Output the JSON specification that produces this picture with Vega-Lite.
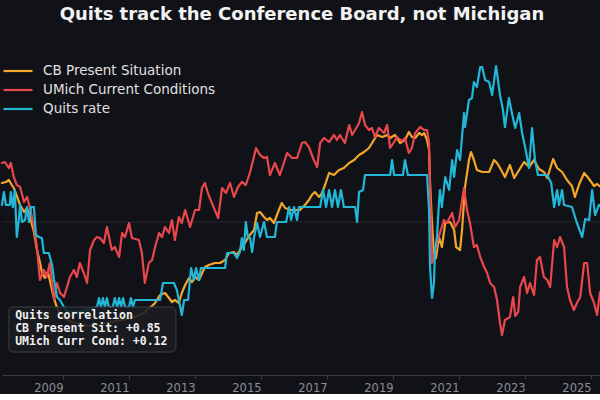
{
  "$schema": "https://vega.github.io/schema/vega-lite/v6.json",
  "width": 600,
  "height": 345,
  "padding": {"top": 6, "left": 0, "right": 0, "bottom": 0},
  "background": "#111217",
  "title": {"text": "Quits track the Conference Board, not Michigan", "anchor": "middle", "fontSize": 18, "font": "DejaVu Sans", "fontWeight": "bold", "color": "#f2f2f2", "offset": 6},
  "config": {"view": {"stroke": null}},
  "datasets": {
    "series": [
      {"s":"CB Present Situation","t":2007.15,"v":0.78},{"s":"CB Present Situation","t":2007.27,"v":0.80},{"s":"CB Present Situation","t":2007.36,"v":0.84},{"s":"CB Present Situation","t":2007.45,"v":0.74},{"s":"CB Present Situation","t":2007.51,"v":0.68},{"s":"CB Present Situation","t":2007.60,"v":0.52},{"s":"CB Present Situation","t":2007.70,"v":0.34},{"s":"CB Present Situation","t":2007.82,"v":0.20},{"s":"CB Present Situation","t":2007.91,"v":0.28},{"s":"CB Present Situation","t":2008.00,"v":0.10},{"s":"CB Present Situation","t":2008.12,"v":-0.20},{"s":"CB Present Situation","t":2008.21,"v":-0.56},{"s":"CB Present Situation","t":2008.30,"v":-0.80},{"s":"CB Present Situation","t":2008.36,"v":-1.00},{"s":"CB Present Situation","t":2008.45,"v":-1.12},{"s":"CB Present Situation","t":2008.54,"v":-1.00},{"s":"CB Present Situation","t":2008.60,"v":-1.16},{"s":"CB Present Situation","t":2008.70,"v":-1.46},{"s":"CB Present Situation","t":2008.79,"v":-1.66},{"s":"CB Present Situation","t":2008.88,"v":-1.80},{"s":"CB Present Situation","t":2009.03,"v":-1.92},{"s":"CB Present Situation","t":2009.27,"v":-2.00},{"s":"CB Present Situation","t":2009.57,"v":-2.06},{"s":"CB Present Situation","t":2009.88,"v":-2.08},{"s":"CB Present Situation","t":2010.18,"v":-2.04},{"s":"CB Present Situation","t":2010.48,"v":-2.00},{"s":"CB Present Situation","t":2010.79,"v":-1.96},{"s":"CB Present Situation","t":2011.09,"v":-1.92},{"s":"CB Present Situation","t":2011.39,"v":-1.84},{"s":"CB Present Situation","t":2011.63,"v":-1.72},{"s":"CB Present Situation","t":2011.79,"v":-1.62},{"s":"CB Present Situation","t":2011.94,"v":-1.46},{"s":"CB Present Situation","t":2012.09,"v":-1.42},{"s":"CB Present Situation","t":2012.21,"v":-1.52},{"s":"CB Present Situation","t":2012.30,"v":-1.60},{"s":"CB Present Situation","t":2012.39,"v":-1.56},{"s":"CB Present Situation","t":2012.51,"v":-1.62},{"s":"CB Present Situation","t":2012.60,"v":-1.42},{"s":"CB Present Situation","t":2012.70,"v":-1.26},{"s":"CB Present Situation","t":2012.82,"v":-1.12},{"s":"CB Present Situation","t":2012.91,"v":-1.20},{"s":"CB Present Situation","t":2013.00,"v":-1.10},{"s":"CB Present Situation","t":2013.12,"v":-1.16},{"s":"CB Present Situation","t":2013.30,"v":-0.90},{"s":"CB Present Situation","t":2013.42,"v":-0.86},{"s":"CB Present Situation","t":2013.60,"v":-0.82},{"s":"CB Present Situation","t":2013.76,"v":-0.82},{"s":"CB Present Situation","t":2013.91,"v":-0.76},{"s":"CB Present Situation","t":2014.03,"v":-0.62},{"s":"CB Present Situation","t":2014.18,"v":-0.60},{"s":"CB Present Situation","t":2014.27,"v":-0.66},{"s":"CB Present Situation","t":2014.36,"v":-0.56},{"s":"CB Present Situation","t":2014.51,"v":-0.42},{"s":"CB Present Situation","t":2014.66,"v":-0.26},{"s":"CB Present Situation","t":2014.79,"v":-0.16},{"s":"CB Present Situation","t":2014.88,"v":0.18},{"s":"CB Present Situation","t":2014.97,"v":0.20},{"s":"CB Present Situation","t":2015.09,"v":0.10},{"s":"CB Present Situation","t":2015.18,"v":0.04},{"s":"CB Present Situation","t":2015.27,"v":0.08},{"s":"CB Present Situation","t":2015.39,"v":-0.02},{"s":"CB Present Situation","t":2015.54,"v":0.24},{"s":"CB Present Situation","t":2015.63,"v":0.38},{"s":"CB Present Situation","t":2015.73,"v":0.28},{"s":"CB Present Situation","t":2015.88,"v":0.24},{"s":"CB Present Situation","t":2016.03,"v":0.24},{"s":"CB Present Situation","t":2016.18,"v":0.24},{"s":"CB Present Situation","t":2016.33,"v":0.34},{"s":"CB Present Situation","t":2016.45,"v":0.44},{"s":"CB Present Situation","t":2016.54,"v":0.54},{"s":"CB Present Situation","t":2016.63,"v":0.60},{"s":"CB Present Situation","t":2016.76,"v":0.50},{"s":"CB Present Situation","t":2016.85,"v":0.58},{"s":"CB Present Situation","t":2016.94,"v":0.74},{"s":"CB Present Situation","t":2017.06,"v":0.98},{"s":"CB Present Situation","t":2017.21,"v":0.94},{"s":"CB Present Situation","t":2017.36,"v":1.04},{"s":"CB Present Situation","t":2017.51,"v":1.08},{"s":"CB Present Situation","t":2017.67,"v":1.18},{"s":"CB Present Situation","t":2017.82,"v":1.24},{"s":"CB Present Situation","t":2017.97,"v":1.34},{"s":"CB Present Situation","t":2018.12,"v":1.40},{"s":"CB Present Situation","t":2018.27,"v":1.48},{"s":"CB Present Situation","t":2018.42,"v":1.64},{"s":"CB Present Situation","t":2018.51,"v":1.74},{"s":"CB Present Situation","t":2018.67,"v":1.70},{"s":"CB Present Situation","t":2018.82,"v":1.74},{"s":"CB Present Situation","t":2018.91,"v":1.68},{"s":"CB Present Situation","t":2019.06,"v":1.74},{"s":"CB Present Situation","t":2019.21,"v":1.58},{"s":"CB Present Situation","t":2019.36,"v":1.64},{"s":"CB Present Situation","t":2019.48,"v":1.80},{"s":"CB Present Situation","t":2019.57,"v":1.70},{"s":"CB Present Situation","t":2019.67,"v":1.68},{"s":"CB Present Situation","t":2019.79,"v":1.78},{"s":"CB Present Situation","t":2019.88,"v":1.74},{"s":"CB Present Situation","t":2019.94,"v":1.78},{"s":"CB Present Situation","t":2020.03,"v":1.64},{"s":"CB Present Situation","t":2020.09,"v":1.44},{"s":"CB Present Situation","t":2020.12,"v":0.78},{"s":"CB Present Situation","t":2020.18,"v":-0.02},{"s":"CB Present Situation","t":2020.24,"v":-0.66},{"s":"CB Present Situation","t":2020.30,"v":-0.72},{"s":"CB Present Situation","t":2020.39,"v":-0.30},{"s":"CB Present Situation","t":2020.48,"v":-0.50},{"s":"CB Present Situation","t":2020.58,"v":-0.02},{"s":"CB Present Situation","t":2020.73,"v":0.00},{"s":"CB Present Situation","t":2020.85,"v":-0.16},{"s":"CB Present Situation","t":2020.91,"v":-0.50},{"s":"CB Present Situation","t":2021.03,"v":-0.56},{"s":"CB Present Situation","t":2021.09,"v":-0.16},{"s":"CB Present Situation","t":2021.18,"v":0.70},{"s":"CB Present Situation","t":2021.30,"v":1.24},{"s":"CB Present Situation","t":2021.36,"v":1.40},{"s":"CB Present Situation","t":2021.45,"v":1.24},{"s":"CB Present Situation","t":2021.54,"v":1.04},{"s":"CB Present Situation","t":2021.70,"v":1.00},{"s":"CB Present Situation","t":2021.91,"v":1.00},{"s":"CB Present Situation","t":2022.06,"v":1.24},{"s":"CB Present Situation","t":2022.15,"v":1.18},{"s":"CB Present Situation","t":2022.24,"v":1.08},{"s":"CB Present Situation","t":2022.39,"v":0.90},{"s":"CB Present Situation","t":2022.54,"v":1.14},{"s":"CB Present Situation","t":2022.67,"v":0.88},{"s":"CB Present Situation","t":2022.82,"v":1.04},{"s":"CB Present Situation","t":2022.97,"v":1.20},{"s":"CB Present Situation","t":2023.12,"v":1.10},{"s":"CB Present Situation","t":2023.27,"v":1.24},{"s":"CB Present Situation","t":2023.42,"v":1.06},{"s":"CB Present Situation","t":2023.57,"v":1.00},{"s":"CB Present Situation","t":2023.67,"v":0.88},{"s":"CB Present Situation","t":2023.85,"v":1.26},{"s":"CB Present Situation","t":2023.97,"v":1.08},{"s":"CB Present Situation","t":2024.12,"v":1.00},{"s":"CB Present Situation","t":2024.27,"v":0.84},{"s":"CB Present Situation","t":2024.42,"v":0.72},{"s":"CB Present Situation","t":2024.51,"v":0.50},{"s":"CB Present Situation","t":2024.64,"v":0.76},{"s":"CB Present Situation","t":2024.79,"v":0.98},{"s":"CB Present Situation","t":2024.94,"v":0.86},{"s":"CB Present Situation","t":2025.09,"v":0.72},{"s":"CB Present Situation","t":2025.18,"v":0.76},{"s":"CB Present Situation","t":2025.33,"v":0.68},

      {"s":"UMich Current Conditions","t":2007.15,"v":1.18},{"s":"UMich Current Conditions","t":2007.24,"v":1.20},{"s":"UMich Current Conditions","t":2007.36,"v":1.08},{"s":"UMich Current Conditions","t":2007.42,"v":1.18},{"s":"UMich Current Conditions","t":2007.51,"v":0.90},{"s":"UMich Current Conditions","t":2007.60,"v":0.74},{"s":"UMich Current Conditions","t":2007.70,"v":0.70},{"s":"UMich Current Conditions","t":2007.82,"v":0.40},{"s":"UMich Current Conditions","t":2007.91,"v":0.50},{"s":"UMich Current Conditions","t":2008.00,"v":0.28},{"s":"UMich Current Conditions","t":2008.12,"v":-0.10},{"s":"UMich Current Conditions","t":2008.21,"v":-0.50},{"s":"UMich Current Conditions","t":2008.30,"v":-1.16},{"s":"UMich Current Conditions","t":2008.42,"v":-0.96},{"s":"UMich Current Conditions","t":2008.51,"v":-1.10},{"s":"UMich Current Conditions","t":2008.60,"v":-0.82},{"s":"UMich Current Conditions","t":2008.73,"v":-1.56},{"s":"UMich Current Conditions","t":2008.82,"v":-1.22},{"s":"UMich Current Conditions","t":2008.91,"v":-1.42},{"s":"UMich Current Conditions","t":2009.03,"v":-1.50},{"s":"UMich Current Conditions","t":2009.12,"v":-1.30},{"s":"UMich Current Conditions","t":2009.21,"v":-1.10},{"s":"UMich Current Conditions","t":2009.33,"v":-0.96},{"s":"UMich Current Conditions","t":2009.42,"v":-1.10},{"s":"UMich Current Conditions","t":2009.51,"v":-0.82},{"s":"UMich Current Conditions","t":2009.63,"v":-1.02},{"s":"UMich Current Conditions","t":2009.73,"v":-1.22},{"s":"UMich Current Conditions","t":2009.82,"v":-0.56},{"s":"UMich Current Conditions","t":2009.94,"v":-0.36},{"s":"UMich Current Conditions","t":2010.03,"v":-0.30},{"s":"UMich Current Conditions","t":2010.12,"v":-0.32},{"s":"UMich Current Conditions","t":2010.24,"v":-0.42},{"s":"UMich Current Conditions","t":2010.33,"v":-0.10},{"s":"UMich Current Conditions","t":2010.48,"v":-0.56},{"s":"UMich Current Conditions","t":2010.57,"v":-0.50},{"s":"UMich Current Conditions","t":2010.70,"v":-0.70},{"s":"UMich Current Conditions","t":2010.79,"v":-0.22},{"s":"UMich Current Conditions","t":2010.88,"v":-0.30},{"s":"UMich Current Conditions","t":2011.00,"v":-0.02},{"s":"UMich Current Conditions","t":2011.09,"v":-0.32},{"s":"UMich Current Conditions","t":2011.30,"v":-0.36},{"s":"UMich Current Conditions","t":2011.39,"v":-0.62},{"s":"UMich Current Conditions","t":2011.48,"v":-1.22},{"s":"UMich Current Conditions","t":2011.60,"v":-0.82},{"s":"UMich Current Conditions","t":2011.70,"v":-0.76},{"s":"UMich Current Conditions","t":2011.79,"v":-0.50},{"s":"UMich Current Conditions","t":2011.91,"v":-0.22},{"s":"UMich Current Conditions","t":2012.00,"v":-0.30},{"s":"UMich Current Conditions","t":2012.09,"v":-0.10},{"s":"UMich Current Conditions","t":2012.21,"v":-0.22},{"s":"UMich Current Conditions","t":2012.30,"v":0.04},{"s":"UMich Current Conditions","t":2012.39,"v":-0.36},{"s":"UMich Current Conditions","t":2012.51,"v":0.10},{"s":"UMich Current Conditions","t":2012.60,"v":-0.02},{"s":"UMich Current Conditions","t":2012.70,"v":0.24},{"s":"UMich Current Conditions","t":2012.85,"v":-0.10},{"s":"UMich Current Conditions","t":2013.00,"v":0.24},{"s":"UMich Current Conditions","t":2013.12,"v":0.24},{"s":"UMich Current Conditions","t":2013.21,"v":0.68},{"s":"UMich Current Conditions","t":2013.30,"v":0.78},{"s":"UMich Current Conditions","t":2013.39,"v":0.58},{"s":"UMich Current Conditions","t":2013.51,"v":0.38},{"s":"UMich Current Conditions","t":2013.60,"v":0.24},{"s":"UMich Current Conditions","t":2013.70,"v":0.08},{"s":"UMich Current Conditions","t":2013.82,"v":0.68},{"s":"UMich Current Conditions","t":2013.94,"v":0.58},{"s":"UMich Current Conditions","t":2014.06,"v":0.78},{"s":"UMich Current Conditions","t":2014.18,"v":0.50},{"s":"UMich Current Conditions","t":2014.30,"v":0.70},{"s":"UMich Current Conditions","t":2014.42,"v":0.80},{"s":"UMich Current Conditions","t":2014.54,"v":0.74},{"s":"UMich Current Conditions","t":2014.67,"v":1.00},{"s":"UMich Current Conditions","t":2014.76,"v":1.24},{"s":"UMich Current Conditions","t":2014.85,"v":1.48},{"s":"UMich Current Conditions","t":2014.97,"v":1.34},{"s":"UMich Current Conditions","t":2015.09,"v":1.28},{"s":"UMich Current Conditions","t":2015.18,"v":1.30},{"s":"UMich Current Conditions","t":2015.27,"v":0.94},{"s":"UMich Current Conditions","t":2015.42,"v":1.18},{"s":"UMich Current Conditions","t":2015.57,"v":0.94},{"s":"UMich Current Conditions","t":2015.79,"v":1.38},{"s":"UMich Current Conditions","t":2015.94,"v":1.28},{"s":"UMich Current Conditions","t":2016.09,"v":1.28},{"s":"UMich Current Conditions","t":2016.24,"v":1.58},{"s":"UMich Current Conditions","t":2016.33,"v":1.60},{"s":"UMich Current Conditions","t":2016.45,"v":1.50},{"s":"UMich Current Conditions","t":2016.60,"v":1.24},{"s":"UMich Current Conditions","t":2016.70,"v":1.10},{"s":"UMich Current Conditions","t":2016.79,"v":1.58},{"s":"UMich Current Conditions","t":2016.91,"v":1.68},{"s":"UMich Current Conditions","t":2017.06,"v":1.60},{"s":"UMich Current Conditions","t":2017.21,"v":1.74},{"s":"UMich Current Conditions","t":2017.30,"v":1.64},{"s":"UMich Current Conditions","t":2017.39,"v":1.74},{"s":"UMich Current Conditions","t":2017.54,"v":1.58},{"s":"UMich Current Conditions","t":2017.67,"v":1.94},{"s":"UMich Current Conditions","t":2017.76,"v":1.74},{"s":"UMich Current Conditions","t":2017.85,"v":1.84},{"s":"UMich Current Conditions","t":2017.97,"v":1.98},{"s":"UMich Current Conditions","t":2018.06,"v":2.20},{"s":"UMich Current Conditions","t":2018.15,"v":1.94},{"s":"UMich Current Conditions","t":2018.27,"v":1.84},{"s":"UMich Current Conditions","t":2018.36,"v":1.88},{"s":"UMich Current Conditions","t":2018.45,"v":1.70},{"s":"UMich Current Conditions","t":2018.57,"v":1.88},{"s":"UMich Current Conditions","t":2018.73,"v":1.78},{"s":"UMich Current Conditions","t":2018.82,"v":1.94},{"s":"UMich Current Conditions","t":2018.91,"v":1.48},{"s":"UMich Current Conditions","t":2019.03,"v":1.60},{"s":"UMich Current Conditions","t":2019.12,"v":1.70},{"s":"UMich Current Conditions","t":2019.27,"v":1.62},{"s":"UMich Current Conditions","t":2019.36,"v":1.68},{"s":"UMich Current Conditions","t":2019.48,"v":1.38},{"s":"UMich Current Conditions","t":2019.57,"v":1.48},{"s":"UMich Current Conditions","t":2019.67,"v":1.78},{"s":"UMich Current Conditions","t":2019.82,"v":1.90},{"s":"UMich Current Conditions","t":2019.94,"v":1.84},{"s":"UMich Current Conditions","t":2020.03,"v":1.84},{"s":"UMich Current Conditions","t":2020.09,"v":1.58},{"s":"UMich Current Conditions","t":2020.12,"v":0.78},{"s":"UMich Current Conditions","t":2020.18,"v":-0.82},{"s":"UMich Current Conditions","t":2020.24,"v":-0.70},{"s":"UMich Current Conditions","t":2020.33,"v":-0.42},{"s":"UMich Current Conditions","t":2020.42,"v":-0.22},{"s":"UMich Current Conditions","t":2020.54,"v":0.04},{"s":"UMich Current Conditions","t":2020.63,"v":-0.02},{"s":"UMich Current Conditions","t":2020.79,"v":0.18},{"s":"UMich Current Conditions","t":2020.88,"v":-0.10},{"s":"UMich Current Conditions","t":2021.00,"v":0.04},{"s":"UMich Current Conditions","t":2021.06,"v":0.30},{"s":"UMich Current Conditions","t":2021.15,"v":0.68},{"s":"UMich Current Conditions","t":2021.24,"v":0.24},{"s":"UMich Current Conditions","t":2021.33,"v":-0.02},{"s":"UMich Current Conditions","t":2021.45,"v":-0.50},{"s":"UMich Current Conditions","t":2021.54,"v":-0.46},{"s":"UMich Current Conditions","t":2021.64,"v":-0.70},{"s":"UMich Current Conditions","t":2021.76,"v":-0.90},{"s":"UMich Current Conditions","t":2021.85,"v":-1.02},{"s":"UMich Current Conditions","t":2021.94,"v":-1.22},{"s":"UMich Current Conditions","t":2022.06,"v":-1.30},{"s":"UMich Current Conditions","t":2022.15,"v":-1.56},{"s":"UMich Current Conditions","t":2022.24,"v":-2.02},{"s":"UMich Current Conditions","t":2022.30,"v":-2.26},{"s":"UMich Current Conditions","t":2022.39,"v":-1.96},{"s":"UMich Current Conditions","t":2022.54,"v":-1.90},{"s":"UMich Current Conditions","t":2022.64,"v":-1.50},{"s":"UMich Current Conditions","t":2022.70,"v":-1.88},{"s":"UMich Current Conditions","t":2022.79,"v":-1.80},{"s":"UMich Current Conditions","t":2022.85,"v":-1.30},{"s":"UMich Current Conditions","t":2022.97,"v":-1.10},{"s":"UMich Current Conditions","t":2023.06,"v":-1.42},{"s":"UMich Current Conditions","t":2023.15,"v":-1.22},{"s":"UMich Current Conditions","t":2023.27,"v":-1.46},{"s":"UMich Current Conditions","t":2023.36,"v":-0.76},{"s":"UMich Current Conditions","t":2023.45,"v":-0.70},{"s":"UMich Current Conditions","t":2023.57,"v":-1.10},{"s":"UMich Current Conditions","t":2023.67,"v":-1.16},{"s":"UMich Current Conditions","t":2023.76,"v":-1.30},{"s":"UMich Current Conditions","t":2023.88,"v":-0.36},{"s":"UMich Current Conditions","t":2023.97,"v":-0.50},{"s":"UMich Current Conditions","t":2024.06,"v":-0.30},{"s":"UMich Current Conditions","t":2024.18,"v":-0.50},{"s":"UMich Current Conditions","t":2024.27,"v":-1.30},{"s":"UMich Current Conditions","t":2024.36,"v":-1.56},{"s":"UMich Current Conditions","t":2024.48,"v":-1.76},{"s":"UMich Current Conditions","t":2024.57,"v":-1.62},{"s":"UMich Current Conditions","t":2024.67,"v":-1.50},{"s":"UMich Current Conditions","t":2024.79,"v":-0.82},{"s":"UMich Current Conditions","t":2024.88,"v":-0.82},{"s":"UMich Current Conditions","t":2024.97,"v":-1.42},{"s":"UMich Current Conditions","t":2025.09,"v":-1.62},{"s":"UMich Current Conditions","t":2025.18,"v":-1.86},{"s":"UMich Current Conditions","t":2025.27,"v":-1.40},{"s":"UMich Current Conditions","t":2025.33,"v":-1.36},

      {"s":"Quits rate","t":2007.15,"v":0.34},{"s":"Quits rate","t":2007.21,"v":0.60},{"s":"Quits rate","t":2007.27,"v":0.34},{"s":"Quits rate","t":2007.39,"v":0.34},{"s":"Quits rate","t":2007.42,"v":0.60},{"s":"Quits rate","t":2007.48,"v":0.30},{"s":"Quits rate","t":2007.54,"v":0.64},{"s":"Quits rate","t":2007.60,"v":-0.30},{"s":"Quits rate","t":2007.67,"v":0.10},{"s":"Quits rate","t":2007.70,"v":0.34},{"s":"Quits rate","t":2007.76,"v":0.00},{"s":"Quits rate","t":2007.85,"v":0.04},{"s":"Quits rate","t":2007.91,"v":0.30},{"s":"Quits rate","t":2007.97,"v":0.00},{"s":"Quits rate","t":2008.03,"v":0.30},{"s":"Quits rate","t":2008.12,"v":0.30},{"s":"Quits rate","t":2008.18,"v":-0.26},{"s":"Quits rate","t":2008.27,"v":-0.30},{"s":"Quits rate","t":2008.36,"v":-0.32},{"s":"Quits rate","t":2008.42,"v":-0.62},{"s":"Quits rate","t":2008.57,"v":-0.62},{"s":"Quits rate","t":2008.67,"v":-0.86},{"s":"Quits rate","t":2008.73,"v":-1.16},{"s":"Quits rate","t":2008.82,"v":-1.50},{"s":"Quits rate","t":2008.91,"v":-1.56},{"s":"Quits rate","t":2009.03,"v":-1.70},{"s":"Quits rate","t":2009.15,"v":-1.80},{"s":"Quits rate","t":2009.42,"v":-1.80},{"s":"Quits rate","t":2009.73,"v":-1.76},{"s":"Quits rate","t":2010.03,"v":-1.70},{"s":"Quits rate","t":2010.09,"v":-1.52},{"s":"Quits rate","t":2010.15,"v":-1.70},{"s":"Quits rate","t":2010.21,"v":-1.52},{"s":"Quits rate","t":2010.27,"v":-1.70},{"s":"Quits rate","t":2010.33,"v":-1.52},{"s":"Quits rate","t":2010.39,"v":-1.70},{"s":"Quits rate","t":2010.51,"v":-1.70},{"s":"Quits rate","t":2010.57,"v":-1.52},{"s":"Quits rate","t":2010.64,"v":-1.70},{"s":"Quits rate","t":2010.70,"v":-1.52},{"s":"Quits rate","t":2010.76,"v":-1.70},{"s":"Quits rate","t":2010.82,"v":-1.52},{"s":"Quits rate","t":2010.88,"v":-1.70},{"s":"Quits rate","t":2011.00,"v":-1.70},{"s":"Quits rate","t":2011.06,"v":-1.52},{"s":"Quits rate","t":2011.12,"v":-1.70},{"s":"Quits rate","t":2011.18,"v":-1.56},{"s":"Quits rate","t":2011.94,"v":-1.56},{"s":"Quits rate","t":2012.03,"v":-1.22},{"s":"Quits rate","t":2012.36,"v":-1.22},{"s":"Quits rate","t":2012.45,"v":-1.36},{"s":"Quits rate","t":2012.51,"v":-1.56},{"s":"Quits rate","t":2012.60,"v":-1.86},{"s":"Quits rate","t":2012.67,"v":-1.56},{"s":"Quits rate","t":2012.79,"v":-1.56},{"s":"Quits rate","t":2012.88,"v":-0.92},{"s":"Quits rate","t":2012.97,"v":-1.16},{"s":"Quits rate","t":2013.03,"v":-0.92},{"s":"Quits rate","t":2013.12,"v":-1.16},{"s":"Quits rate","t":2013.18,"v":-0.92},{"s":"Quits rate","t":2013.91,"v":-0.92},{"s":"Quits rate","t":2013.97,"v":-0.62},{"s":"Quits rate","t":2014.18,"v":-0.62},{"s":"Quits rate","t":2014.27,"v":-0.72},{"s":"Quits rate","t":2014.36,"v":-0.60},{"s":"Quits rate","t":2014.42,"v":-0.32},{"s":"Quits rate","t":2014.48,"v":-0.56},{"s":"Quits rate","t":2014.54,"v":0.00},{"s":"Quits rate","t":2014.60,"v":-0.30},{"s":"Quits rate","t":2014.67,"v":-0.32},{"s":"Quits rate","t":2014.73,"v":-0.60},{"s":"Quits rate","t":2014.79,"v":-0.30},{"s":"Quits rate","t":2014.88,"v":-0.02},{"s":"Quits rate","t":2014.97,"v":-0.30},{"s":"Quits rate","t":2015.09,"v":0.00},{"s":"Quits rate","t":2015.18,"v":-0.30},{"s":"Quits rate","t":2015.42,"v":-0.30},{"s":"Quits rate","t":2015.48,"v":0.00},{"s":"Quits rate","t":2015.76,"v":0.00},{"s":"Quits rate","t":2015.85,"v":0.30},{"s":"Quits rate","t":2015.91,"v":0.04},{"s":"Quits rate","t":2016.00,"v":0.30},{"s":"Quits rate","t":2016.09,"v":0.04},{"s":"Quits rate","t":2016.15,"v":0.30},{"s":"Quits rate","t":2016.79,"v":0.30},{"s":"Quits rate","t":2016.88,"v":0.64},{"s":"Quits rate","t":2016.97,"v":0.30},{"s":"Quits rate","t":2017.06,"v":0.64},{"s":"Quits rate","t":2017.15,"v":0.30},{"s":"Quits rate","t":2017.24,"v":0.64},{"s":"Quits rate","t":2017.33,"v":0.30},{"s":"Quits rate","t":2017.42,"v":0.64},{"s":"Quits rate","t":2017.51,"v":0.30},{"s":"Quits rate","t":2017.85,"v":0.30},{"s":"Quits rate","t":2017.91,"v":0.00},{"s":"Quits rate","t":2017.97,"v":0.60},{"s":"Quits rate","t":2018.09,"v":0.64},{"s":"Quits rate","t":2018.15,"v":0.94},{"s":"Quits rate","t":2018.91,"v":0.94},{"s":"Quits rate","t":2018.97,"v":1.24},{"s":"Quits rate","t":2019.03,"v":0.94},{"s":"Quits rate","t":2019.30,"v":0.94},{"s":"Quits rate","t":2019.36,"v":1.24},{"s":"Quits rate","t":2019.45,"v":0.94},{"s":"Quits rate","t":2020.03,"v":0.94},{"s":"Quits rate","t":2020.09,"v":0.24},{"s":"Quits rate","t":2020.12,"v":-0.90},{"s":"Quits rate","t":2020.18,"v":-1.52},{"s":"Quits rate","t":2020.24,"v":-1.22},{"s":"Quits rate","t":2020.27,"v":-0.56},{"s":"Quits rate","t":2020.33,"v":-0.30},{"s":"Quits rate","t":2020.39,"v":0.38},{"s":"Quits rate","t":2020.42,"v":0.64},{"s":"Quits rate","t":2020.48,"v":0.30},{"s":"Quits rate","t":2020.58,"v":0.90},{"s":"Quits rate","t":2020.70,"v":0.64},{"s":"Quits rate","t":2020.79,"v":1.24},{"s":"Quits rate","t":2020.85,"v":0.90},{"s":"Quits rate","t":2020.94,"v":1.44},{"s":"Quits rate","t":2021.03,"v":1.24},{"s":"Quits rate","t":2021.15,"v":2.18},{"s":"Quits rate","t":2021.18,"v":1.90},{"s":"Quits rate","t":2021.30,"v":2.44},{"s":"Quits rate","t":2021.39,"v":2.48},{"s":"Quits rate","t":2021.45,"v":2.80},{"s":"Quits rate","t":2021.54,"v":2.70},{"s":"Quits rate","t":2021.64,"v":3.10},{"s":"Quits rate","t":2021.70,"v":3.10},{"s":"Quits rate","t":2021.79,"v":2.84},{"s":"Quits rate","t":2021.91,"v":2.80},{"s":"Quits rate","t":2022.00,"v":2.54},{"s":"Quits rate","t":2022.12,"v":3.12},{"s":"Quits rate","t":2022.24,"v":2.54},{"s":"Quits rate","t":2022.33,"v":2.24},{"s":"Quits rate","t":2022.39,"v":1.90},{"s":"Quits rate","t":2022.51,"v":2.48},{"s":"Quits rate","t":2022.60,"v":2.18},{"s":"Quits rate","t":2022.70,"v":1.88},{"s":"Quits rate","t":2022.82,"v":2.18},{"s":"Quits rate","t":2022.91,"v":1.78},{"s":"Quits rate","t":2023.00,"v":1.50},{"s":"Quits rate","t":2023.12,"v":1.08},{"s":"Quits rate","t":2023.21,"v":1.88},{"s":"Quits rate","t":2023.30,"v":1.24},{"s":"Quits rate","t":2023.39,"v":0.94},{"s":"Quits rate","t":2023.67,"v":0.94},{"s":"Quits rate","t":2023.79,"v":0.78},{"s":"Quits rate","t":2023.88,"v":0.30},{"s":"Quits rate","t":2023.97,"v":0.64},{"s":"Quits rate","t":2024.03,"v":0.34},{"s":"Quits rate","t":2024.12,"v":0.64},{"s":"Quits rate","t":2024.18,"v":0.34},{"s":"Quits rate","t":2024.42,"v":0.30},{"s":"Quits rate","t":2024.57,"v":-0.02},{"s":"Quits rate","t":2024.73,"v":-0.30},{"s":"Quits rate","t":2024.82,"v":0.06},{"s":"Quits rate","t":2024.94,"v":0.04},{"s":"Quits rate","t":2025.03,"v":0.64},{"s":"Quits rate","t":2025.12,"v":0.14},{"s":"Quits rate","t":2025.24,"v":0.34},{"s":"Quits rate","t":2025.33,"v":0.30}
    ],
    "zero": [{"v": 0}],
    "box": [{"t": 2007.36, "t2": 2012.42, "v": -1.70, "v2": -2.60}],
    "note": [{"t": 2007.55, "v": -1.76, "label": "Quits correlation\nCB Present Sit: +0.85\nUMich Curr Cond: +0.12"}]
  },
  "layer": [
    {
      "data": {"name": "zero"},
      "mark": {"type": "rule", "color": "#262930", "strokeWidth": 1},
      "encoding": {
        "y": {"field": "v", "type": "quantitative", "scale": {"domain": [-3.06, 3.84], "nice": false, "zero": false}, "axis": null}
      }
    },
    {
      "data": {"name": "series"},
      "mark": {"type": "line", "strokeJoin": "round", "strokeCap": "round"},
      "encoding": {
        "x": {"field": "t", "type": "quantitative", "scale": {"domain": [2007.152, 2025.33], "nice": false, "zero": false},
              "axis": {"title": null, "values": [2009, 2011, 2013, 2015, 2017, 2019, 2021, 2023, 2025], "format": "d", "grid": false, "labelAlign": "right", "labelOverlap": false,
                       "domainColor": "#3a3d45", "tickColor": "#3a3d45", "tickSize": 4, "labelColor": "#8a8e96", "labelFont": "DejaVu Sans", "labelFontSize": 11.5, "labelPadding": 3}},
        "y": {"field": "v", "type": "quantitative", "scale": {"domain": [-3.06, 3.84], "nice": false, "zero": false}, "axis": null},
        "color": {"field": "s", "type": "nominal",
                  "scale": {"domain": ["CB Present Situation", "UMich Current Conditions", "Quits rate"], "range": ["#f4a62a", "#e8474c", "#22b6d7"]},
                  "legend": {"title": null, "orient": "none", "legendX": 0, "legendY": 33, "labelColor": "#e0e0e0", "labelFont": "DejaVu Sans", "labelFontSize": 13.5, "labelLimit": 0, "symbolType": "stroke", "symbolSize": 841, "symbolLimit": 0, "labelOffset": 9, "rowPadding": 3, "padding": 0, "clipHeight": 16}},
        "strokeWidth": {"field": "s", "type": "nominal",
                  "scale": {"domain": ["CB Present Situation", "UMich Current Conditions", "Quits rate"], "range": [2.2, 2.2, 3.4]},
                  "legend": {"title": null, "orient": "none", "legendX": 0, "legendY": 33, "labelColor": "#e0e0e0", "labelFont": "DejaVu Sans", "labelFontSize": 13.5, "labelLimit": 0, "symbolType": "stroke", "symbolSize": 841, "symbolLimit": 0, "labelOffset": 9, "rowPadding": 3, "padding": 0, "clipHeight": 16}}
      }
    },
    {
      "data": {"name": "box"},
      "mark": {"type": "rect", "fill": "#1a1c22", "fillOpacity": 0.88, "stroke": "#3b3e46", "strokeWidth": 1, "cornerRadius": 4},
      "encoding": {
        "x": {"field": "t", "type": "quantitative", "scale": {"domain": [2007.152, 2025.33], "nice": false, "zero": false}},
        "x2": {"field": "t2"},
        "y": {"field": "v", "type": "quantitative", "scale": {"domain": [-3.06, 3.84], "nice": false, "zero": false}},
        "y2": {"field": "v2"}
      }
    },
    {
      "data": {"name": "note"},
      "mark": {"type": "text", "align": "left", "baseline": "top", "font": "DejaVu Sans Mono", "fontWeight": "bold", "fontSize": 11.5, "color": "#f0f0f0", "lineBreak": "\n", "lineHeight": 13},
      "encoding": {
        "x": {"field": "t", "type": "quantitative", "scale": {"domain": [2007.152, 2025.33], "nice": false, "zero": false}},
        "y": {"field": "v", "type": "quantitative", "scale": {"domain": [-3.06, 3.84], "nice": false, "zero": false}},
        "text": {"field": "label"}
      }
    }
  ]
}
